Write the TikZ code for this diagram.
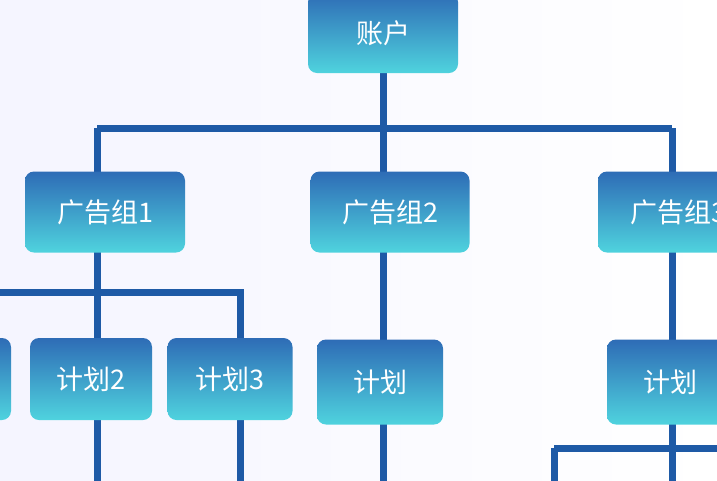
\documentclass[tikz,border=0pt]{standalone}
\usepackage{fontspec}
\newfontfamily\cjk{Noto Sans CJK SC}
\definecolor{topc}{HTML}{2E6CB6}
\definecolor{botc}{HTML}{4FD3DE}
\definecolor{linec}{HTML}{1E5AA6}
\begin{document}
\begin{tikzpicture}[x=1pt,y=-1pt,
  box/.style={rounded corners=9pt,top color=topc,bottom color=botc,text=white,font=\cjk\fontsize{27}{30}\selectfont,inner sep=0pt},
  conn/.style={draw=linec,line width=7pt}]
\useasboundingbox (0,0) rectangle (717,480);
\begin{scope}
\clip (0,0) rectangle (717,480);
\shade[left color=blue!4!white,right color=white] (0,0) rectangle (717,480);
\coordinate (bar1) at (97,128);
\coordinate (bar2) at (672,128);
\coordinate (s1) at (-10,292);
\coordinate (s2) at (240,292);
\coordinate (r1) at (554,448);
\coordinate (r2) at (720,448);
\coordinate (e1) at (97,485);
\coordinate (e2) at (240,485);
\coordinate (e3) at (383,485);
\coordinate (e4) at (672,485);
\coordinate (e5) at (554,485);
\coordinate (acb) at (383,128);
\draw[conn] (383,60) -- (acb);
\draw[conn] (bar1) -- (bar2);
\draw[conn] (bar1) -- (97,190);
\draw[conn] (acb) -- (383,190);
\draw[conn] (bar2) -- (672,190);
\draw[conn] (97,240) -- (97,360);
\draw[conn] (s1) -- (s2) -- (240,360);
\draw[conn] (383,240) -- (383,360);
\draw[conn] (672,240) -- (672,360);
\draw[conn] (97,400) -- (e1);
\draw[conn] (240,400) -- (e2);
\draw[conn] (383,400) -- (e3);
\draw[conn] (672,400) -- (e4);
\draw[conn] (r1) -- (r2);
\draw[conn] (r1) -- (e5);
\node[box,minimum width=150pt,minimum height=80pt] (acc) at (383,33) {账户};
\node[box,minimum width=160pt,minimum height=81pt] (g1) at (105,212) {广告组1};
\node[box,minimum width=159pt,minimum height=81pt] (g2) at (390,212) {广告组2};
\node[box,minimum width=160pt,minimum height=81pt] (g3) at (678,212) {广告组3};
\node[box,minimum width=122pt,minimum height=82pt] (p1) at (-50,379) {计划1};
\node[box,minimum width=122pt,minimum height=82pt] (p2) at (91,379) {计划2};
\node[box,minimum width=125pt,minimum height=82pt] (p3) at (230,379) {计划3};
\node[box,minimum width=126pt,minimum height=85pt] (p4) at (380,382) {计划};
\node[box,minimum width=126pt,minimum height=85pt] (p5) at (670,382) {计划};
\end{scope}
\end{tikzpicture}
\end{document}
